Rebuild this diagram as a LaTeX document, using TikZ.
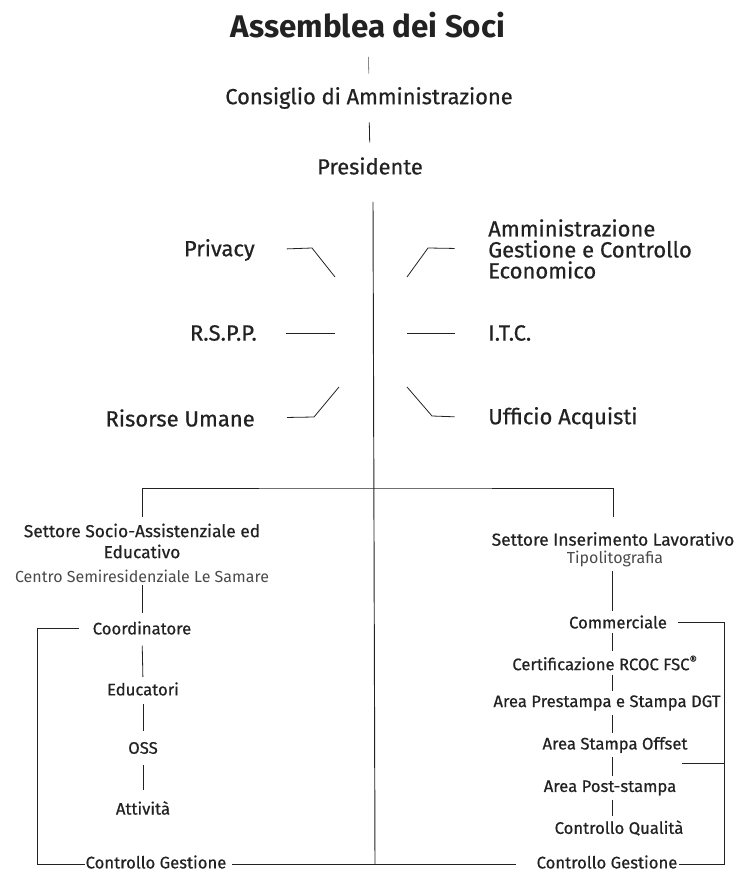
\documentclass[tikz,border=0pt]{standalone}
\usepackage{fontspec}
\setmainfont{Fira Sans}
\newfontfamily\medfont{Fira Sans}[FakeBold=0.6]
\definecolor{ink}{HTML}{222222}
\definecolor{faint}{HTML}{8A8A8A}
\definecolor{soft}{HTML}{4A4A4A}

\begin{document}
\begin{tikzpicture}[x=0.75pt,y=-0.75pt,
    every node/.style={inner sep=0pt,text=ink},
    head/.style={font=\bfseries\fontsize{23.5}{28}\selectfont},
    top/.style={font=\medfont\fontsize{16.4}{20}\selectfont},
    side/.style={font=\medfont\fontsize{16.5}{15.75}\selectfont,align=left},
    sector/.style={font=\medfont\fontsize{13}{15.75}\selectfont,align=center},
    sub/.style={font=\fontsize{12}{15}\selectfont,text=soft},
    unit/.style={font=\medfont\fontsize{12.5}{15}\selectfont},
    link/.style={draw=ink,line width=0.6pt,shorten <=3pt,shorten >=3pt},
    spine/.style={draw=ink,line width=0.7pt}]
\useasboundingbox (0,0) rectangle (740,873);

% vertice
\node[head] (soci) at (368,25) {Assemblea dei Soci};
\node[top] (cda) at (369,98) {Consiglio di Amministrazione};
\node[top] (pres) at (370,166) {Presidente};
\draw[link,draw=faint,shorten <=14pt,shorten >=10pt] (soci.south) -- (cda.north);
\draw[link,shorten <=10pt,shorten >=11pt] (cda.south) -- (pres.north);

\coordinate (spinetop) at (373,202);
\coordinate (spinebot) at (375,864);
\draw[spine] (spinetop) -- (spinebot);

% staff a sinistra
\node[side,anchor=east] (privacy) at (255,250) {Privacy};
\node[side,anchor=east] (rspp) at (257,333) {R.S.P.P.};
\node[side,anchor=east] (risorse) at (255,418) {Risorse Umane};
\coordinate (privacyin) at (335,277);
\coordinate (rsppin) at (335,333);
\coordinate (risorsein) at (339,387);
\draw[link,shorten <=24pt,shorten >=0pt] (privacy.east) -- ++(57,-2) -- (privacyin);
\draw[link,shorten <=22pt,shorten >=0pt] (rspp.east) -- (rsppin);
\draw[link,shorten <=24pt,shorten >=0pt] (risorse.east) -- ++(59,-1) -- (risorsein);

% staff a destra
\node[side,anchor=west] (amm) at (488,249) {Amministrazione\\Gestione e Controllo\\Economico};
\node[side,anchor=west] (itc) at (488,333) {I.T.C.};
\node[side,anchor=west] (acquisti) at (488,418) {Ufficio Acquisti};
\coordinate (ammin) at (407,277);
\coordinate (itcin) at (407,333);
\coordinate (acquistiin) at (407,387);
\draw[link,shorten <=0pt,shorten >=25pt] (ammin) -- ++(21,-29) -- (amm.west);
\draw[link,shorten <=0pt,shorten >=25pt] (itcin) -- (itc.west);
\draw[link,shorten <=0pt,shorten >=25pt] (acquistiin) -- ++(25,29) -- (acquisti.west);

% settori
\coordinate (branch) at (373,488);
\node[sector] (ssa) at (142,541) {Settore Socio-Assistenziale ed\\Educativo};
\node[sub] (centro) at (142,576) {Centro Semiresidenziale Le Samare};
\node[sector] (sil) at (613,539) {Settore Inserimento Lavorativo};
\node[sub] (tipo) at (615,559) {Tipolitografia};
\draw[link,shorten <=5pt,shorten >=11pt] (ssa.north) |- (branch) -| (sil.north);

% colonna sinistra
\node[unit] (coord) at (142,628) {Coordinatore};
\node[unit] (educ) at (143,689) {Educatori};
\node[unit] (oss) at (143,748) {OSS};
\node[unit] (att) at (143,808) {Attività};
\node[unit] (cgsx) at (156,862) {Controllo Gestione};
\draw[link,shorten <=2pt,shorten >=6pt] (centro.south) -- (coord.north);
\draw[link,shorten <=8pt,shorten >=4pt] (coord.south) -- (educ.north);
\draw[link,shorten <=6pt,shorten >=8pt] (educ.south) -- (oss.north);
\draw[link,shorten <=8pt,shorten >=8pt] (oss.south) -- (att.north);
\coordinate (sxbr) at (37,864);
\draw[link,shorten <=10pt,shorten >=0pt] (coord.west) -| (sxbr) -- (cgsx.west |- sxbr);

% colonna destra
\coordinate (rcol) at (612,0);
\node[unit] (comm) at (618,622) {Commerciale};
\node[unit] (cert) at (605,663) {Certificazione RCOC FSC\textsuperscript{®}};
\node[unit] (prest) at (607,703) {Area Prestampa e Stampa DGT};
\node[unit] (offset) at (615,745) {Area Stampa Offset};
\node[unit] (post) at (610,788) {Area Post-stampa};
\node[unit] (qual) at (619,828) {Controllo Qualità};
\node[unit] (cgdx) at (607,862) {Controllo Gestione};
\draw[link] (tipo.south -| rcol) -- (comm.north -| rcol);
\draw[link] (comm.south -| rcol) -- (cert.north -| rcol);
\draw[link] (cert.south -| rcol) -- (prest.north -| rcol);
\draw[link] (prest.south -| rcol) -- (offset.north -| rcol);
\draw[link] (offset.south -| rcol) -- (post.north -| rcol);
\draw[link] (post.south -| rcol) -- (qual.north -| rcol);
\coordinate (dxbr) at (724,864);
\coordinate (offtick) at (682,763);
\draw[link,shorten <=8pt,shorten >=1pt] (comm.east) -| (dxbr) -- (cgdx.east |- dxbr);
\draw[link,shorten <=0pt,shorten >=0pt] (offtick) -- (offtick -| dxbr);

% controllo gestione
\draw[link,shorten <=4pt,shorten >=15pt] (cgsx.east |- sxbr) -- (cgdx.west |- dxbr);
\end{tikzpicture}
\end{document}
